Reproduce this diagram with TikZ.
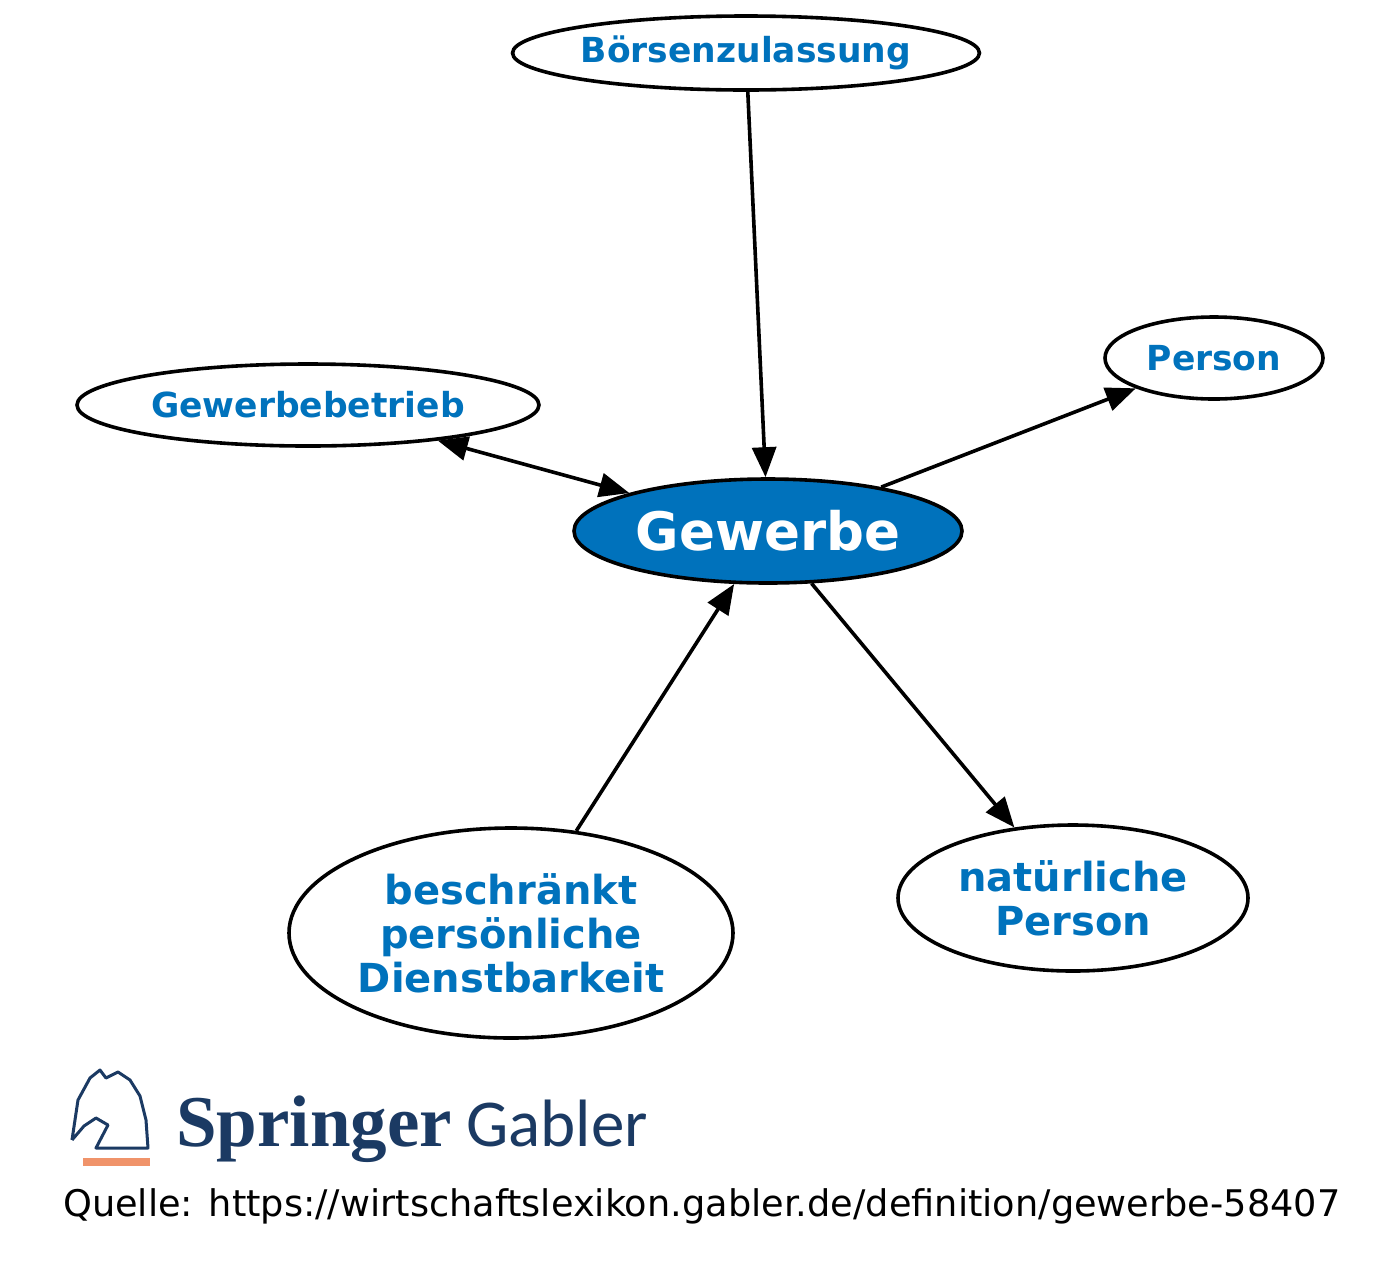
\documentclass[tikz,border=0pt]{standalone}
\usepackage{fontspec}
\setmainfont{DejaVu Sans}
\newfontfamily\serifx{Liberation Serif}
\newfontfamily\gabfont{Carlito}
\usetikzlibrary{shapes.geometric,arrows.meta}
\definecolor{sblue}{HTML}{0072BC}
\definecolor{sdark}{HTML}{1B3A63}
\definecolor{sorange}{HTML}{F0936A}
\begin{document}
\begin{tikzpicture}[x=1pt,y=-1pt,
  ell/.style={ellipse,draw,line width=3.6pt,inner sep=0pt,font=\bfseries,text=sblue,align=center},
  edge/.style={line width=3.6pt,-{Triangle[length=30pt,width=24pt]}},
  edge2/.style={line width=3.6pt,{Triangle[length=30pt,width=24pt]}-{Triangle[length=30pt,width=24pt]}}]
\useasboundingbox (0,0) rectangle (1400,1270);
\fill[white] (0,0) rectangle (1400,1270);
\node[ell,minimum width=462pt,minimum height=74pt,font=\fontsize{34.5}{38}\bfseries] (b) at (746,53) {Börsenzulassung};
\node[ell,minimum width=218pt,minimum height=82pt,font=\fontsize{34.5}{38}\bfseries] (p) at (1214,358) {Person};
\node[ell,minimum width=462pt,minimum height=82pt,font=\fontsize{34.5}{38}\bfseries] (gb) at (308,405) {Gewerbebetrieb};
\node[ell,fill=sblue,text=white,minimum width=388pt,minimum height=104pt,font=\fontsize{53}{58}\bfseries] (g) at (768,531) {Gewerbe};
\node[ell,minimum width=444pt,minimum height=210pt,font=\fontsize{40}{44}\bfseries] (bp) at (511,933) {beschränkt\\persönliche\\Dienstbarkeit};
\node[ell,minimum width=350pt,minimum height=146pt,font=\fontsize{40}{44}\bfseries] (np) at (1073,898) {natürliche\\Person};
\draw[edge] (b) -- (g);
\draw[edge] (g) -- (p);
\draw[edge2] (gb) -- (g);
\draw[edge] (bp) -- (g);
\draw[edge] (g) -- (np);
% logo
\fill[sorange] (83,1158) rectangle (150,1166);
\draw[sdark,line width=3pt,line join=round] (72,1140) -- (78,1100) -- (90,1078) -- (100,1070) -- (106,1078) -- (118,1072) -- (130,1080) -- (140,1096) -- (146,1120) -- (148,1148) -- (96,1148) -- (108,1125) -- (96,1118) -- (84,1126) -- (72,1140);
\node[anchor=base west,text=sdark,inner sep=0pt,font=\serifx\bfseries\fontsize{73}{76}\selectfont] (spr) at (176,1146) {Springer};
\node[anchor=base west,text=sdark,inner sep=0pt,font=\gabfont\fontsize{67}{70}\selectfont] (gab) at (466,1146) {Gabler};
\node[anchor=base west,inner sep=0pt,font=\fontsize{36.7}{40}\selectfont] (q) at (63,1216) {Quelle: https://wirtschaftslexikon.gabler.de/definition/gewerbe-58407};
\end{tikzpicture}
\end{document}
